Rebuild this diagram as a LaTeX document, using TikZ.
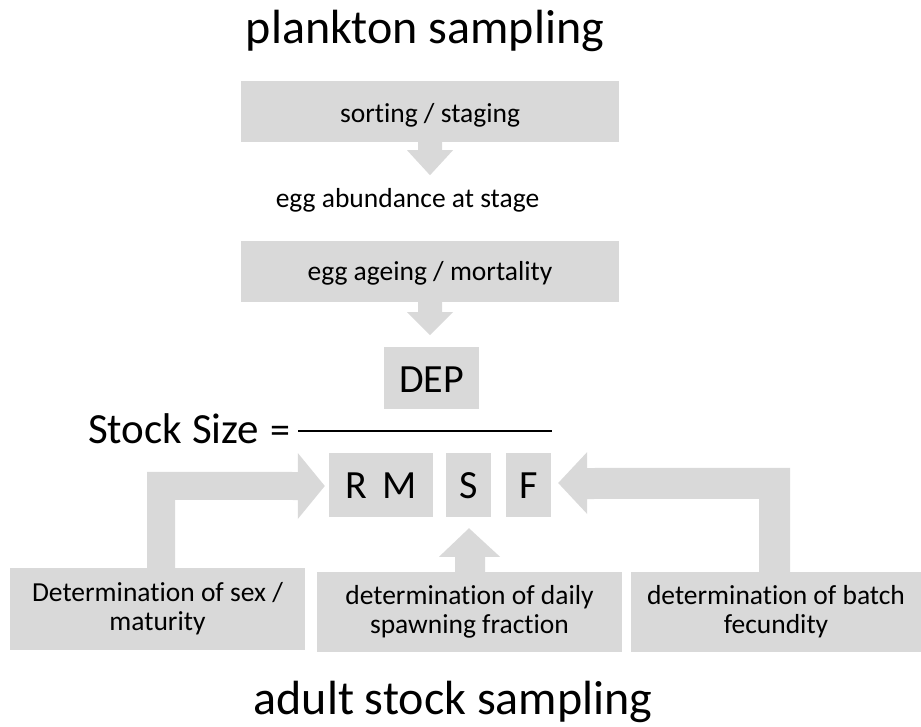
\documentclass[tikz,border=0pt]{standalone}
\usepackage{fontspec}
\setmainfont[Ligatures={NoCommon}]{Carlito}
\usetikzlibrary{calc}
\definecolor{boxgray}{HTML}{D9D9D9}
\tikzset{
  graybox/.style={fill=boxgray, draw=none, inner sep=0pt, align=center, font=\fontsize{27.5}{29}\selectfont},
  bigbox/.style={fill=boxgray, draw=none, inner sep=0pt, font=\fontsize{40}{48}\selectfont},
  plaintext/.style={inner sep=0pt, anchor=base, font=\fontsize{27.5}{29}\selectfont},
  bigtext/.style={inner sep=0pt, font=\fontsize{40}{48}\selectfont},
  titletext/.style={inner sep=0pt, anchor=base, font=\fontsize{48}{58}\selectfont},
  blockarrow/.style={fill=boxgray, draw=none},
  fracline/.style={draw=black, line width=1.5pt},
}
\begin{document}
\begin{tikzpicture}[x=1pt,y=-1pt]
\useasboundingbox (0,0) rectangle (921,726);

% titles
\node[titletext] (plank) at (425,43) {plankton sampling};
\node[titletext] (adult) at (453,714) {adult stock sampling};

% upper chain
\node[graybox, minimum width=378, minimum height=61, text height=21, text depth=0pt] (sort) at (430,111.5) {sorting / staging};
\node[plaintext] (abund) at (407.5,207) {egg abundance at stage};
\node[graybox, minimum width=378, minimum height=61, text height=17, text depth=0pt] (age) at (430,271.5) {egg ageing / mortality};

\fill[blockarrow] ($(sort.south)+(-12,-1)$) -- ($(sort.south)+(-12,8)$) -- ($(sort.south)+(-23,8)$)
  -- ($(sort.south)+(0,33)$) -- ($(sort.south)+(23,8)$) -- ($(sort.south)+(12,8)$) -- ($(sort.south)+(12,-1)$) -- cycle;
\fill[blockarrow] ($(age.south)+(-12,-1)$) -- ($(age.south)+(-12,10)$) -- ($(age.south)+(-23,10)$)
  -- ($(age.south)+(0,33)$) -- ($(age.south)+(23,10)$) -- ($(age.south)+(12,10)$) -- ($(age.south)+(12,-1)$) -- cycle;

% equation
\node[bigbox, minimum width=95, minimum height=62, text height=28, text depth=0pt] (dep) at (431.5,378) {DEP};
\node[bigtext, anchor=base west, font=\fontsize{43}{50}\selectfont] (stock) at (88,443) {Stock Size};
\node[bigtext, anchor=base] (eq) at (280,443) {=};
\coordinate (fracL) at (298,431);
\coordinate (fracR) at (552,431);
\draw[fracline] (fracL) -- (fracR);

\node[bigbox, minimum width=104, minimum height=64, text height=26, text depth=0pt] (rm) at (381,485) {R\hspace{16pt}M};
\node[bigbox, minimum width=45, minimum height=64, text height=26, text depth=0pt] (s) at (468.5,485) {S};
\node[bigbox, minimum width=45, minimum height=64, text height=26, text depth=0pt] (f) at (528.5,485) {F};

% bottom boxes
\node[graybox, minimum width=295, minimum height=82] (sex) at (157.5,609) {Determination of sex /\\maturity};
\node[graybox, minimum width=305, minimum height=80] (daily) at (469.5,612) {determination of daily\\spawning fraction};
\node[graybox, minimum width=290, minimum height=80] (batch) at (776,612) {determination of batch\\fecundity};

% left bent arrow: sex -> rm
\fill[blockarrow] ($(sex.north)+(-10.5,1)$) -- ($(sex.north)+(-10.5,-96)$) -- ($(rm.west)+(-31,-13)$)
  -- ($(rm.west)+(-31,-32)$) -- ($(rm.west)+(-4,1)$) -- ($(rm.west)+(-31,34)$) -- ($(rm.west)+(-31,15)$)
  -- ($(sex.north)+(17.5,-68)$) -- ($(sex.north)+(17.5,1)$) -- cycle;

% right bent arrow: batch -> f
\fill[blockarrow] ($(batch.north)+(14,1)$) -- ($(batch.north)+(14,-104)$) -- ($(f.east)+(36,-17)$)
  -- ($(f.east)+(36,-33)$) -- ($(f.east)+(7,-2)$) -- ($(f.east)+(36,29)$) -- ($(f.east)+(36,14)$)
  -- ($(batch.north)+(-17,-73)$) -- ($(batch.north)+(-17,1)$) -- cycle;

% middle up arrow: daily -> s
\fill[blockarrow] ($(daily.north)+(-14.5,1)$) -- ($(daily.north)+(-14.5,-15)$) -- ($(daily.north)+(-30.5,-15)$)
  -- ($(s.south)+(0.5,11)$) -- ($(daily.north)+(30.5,-15)$) -- ($(daily.north)+(15.5,-15)$)
  -- ($(daily.north)+(15.5,1)$) -- cycle;
\end{tikzpicture}
\end{document}
